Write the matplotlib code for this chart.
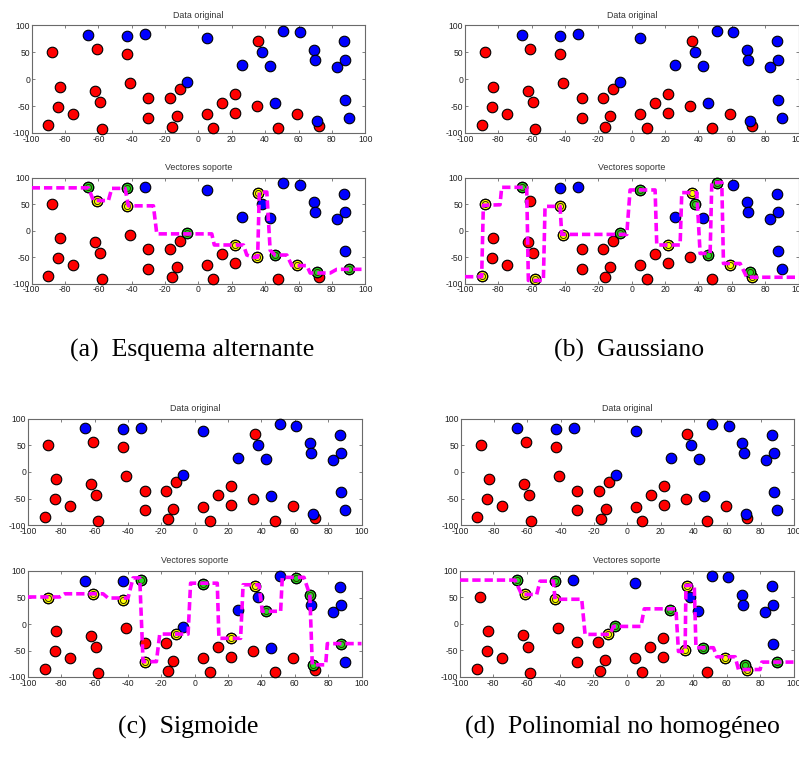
import matplotlib
matplotlib.use("Agg")
import matplotlib.pyplot as plt

plt.rcParams["axes.unicode_minus"] = False

W, H = 799, 757

# Training data: two classes
red_x = [-88, -83, -84, -90, -75, -61, -62, -59, -58, -43, -41, -30, -30, -17, -11,
         -13, -16, 5, 9, 14, 22, 22, 35, 36, 48, 59, 72]
red_y = [50, -14, -51, -85, -64, 56, -22, -43, -92, 46, -8, -35, -72, -35, -19,
         -69, -88, -65, -91, -44, -27, -62, -50, 71, -91, -64, -87]
blue_x = [-66, -43, -32, -7, 5, 26, 38, 43, 46, 51, 61, 69, 70, 83, 87, 88, 88, 90, 71]
blue_y = [82, 81, 83, -5, 76, 26, 51, 24, -45, 90, 87, 54, 35, 22, 70, 36, -38, -72, -78]

# Support vectors (red class -> yellow, blue class -> green) per kernel
sv_red_a_x = [-61, -43, 22, 36, 35, 59]
sv_red_a_y = [56, 46, -27, 71, -50, -64]
sv_blue_a_x = [-66, -43, -7, 46, 71, 90]
sv_blue_a_y = [82, 81, -5, -45, -78, -72]

sv_red_b_x = [-90, -88, -58, -43, -41, 22, 36, 59, 72]
sv_red_b_y = [-85, 50, -92, 46, -8, -27, 71, -64, -87]
sv_blue_b_x = [-66, -7, 5, 38, 46, 51, 71]
sv_blue_b_y = [82, -5, 76, 51, -45, 90, -78]

sv_red_c_x = [-88, -61, -43, -30, -11, 22, 36]
sv_red_c_y = [50, 56, 46, -72, -19, -27, 71]
sv_blue_c_x = [-32, 5, 43, 61, 69, 71, 88]
sv_blue_c_y = [83, 76, 24, 87, 54, -78, -38]

sv_red_d_x = [-61, -43, -11, 36, 35, 59, 72]
sv_red_d_y = [56, 46, -19, 71, -50, -64, -87]
sv_blue_d_x = [-66, -43, -7, 26, 46, 71, 90]
sv_blue_d_y = [82, 81, -5, 26, -45, -78, -72]

# Decision boundaries (grid contour, step-like)
bnd_a_x = [-100, -66, -63, -54, -52, -44, -42, -27, -25, 8, 9.5, 27, 29, 33, 35.5,
           36.5, 41, 43, 46, 53, 56, 65, 67, 79, 83, 100]
bnd_a_y = [81, 81, 57, 57, 80, 80, 47, 47, -6, -6, -27, -27, -46, -50, -50,
           73, 73, -37, -46, -46, -66, -66, -80, -80, -73, -73]

bnd_b_x = [-100, -90, -89, -79, -78, -63, -62, -53, -52, -43, -42, -3, -1, 14, 15,
           29, 30, 39, 41, 47, 48, 54, 55, 65, 69, 100]
bnd_b_y = [-87, -87, 48, 49, 82, 82, -94, -94, 46, 46, -7, -7, 77, 77, -27,
           -27, 72, 72, -43, -43, 91, 91, -62, -62, -88, -88]

bnd_c_x = [-100, -81, -78, -55, -52, -40, -37, -33, -31, -23, -21, -4, -2.5, 13.5,
           14.5, 27.5, 29, 38.5, 40.5, 51.5, 52.5, 65.5, 69, 70.5, 78.5, 79.5, 100]
bnd_c_y = [51, 51, 57, 57, 49, 49, 87, 87, -71, -71, -19, -19, 77, 77,
           -27, -27, 74, 74, 24, 24, 88, 88, 55, -77, -77, -37, -37]

bnd_d_x = [-100, -67, -63, -54, -52, -44, -43, -27, -25, -10, -8, 8.5, 10.5, 29.5,
           31, 35, 35.5, 40.5, 41.5, 52, 54, 65, 67, 80, 81, 100]
bnd_d_y = [82, 82, 55, 55, 80, 80, 46, 46, -20, -20, -5, -5, 28, 28,
           -52, -52, 72, 72, -45, -45, -62, -62, -86, -86, -72, -72]

captions = ["(a)  Esquema alternante", "(b)  Gaussiano",
            "(c)  Sigmoide", "(d)  Polinomial no homogéneo"]

xticks = list(range(-100, 101, 20))
yticks = [-100, -50, 0, 50, 100]

RED = "#ff0000"
BLUE = "#0000ff"
YELLOW = "#ffff00"
GREEN = "#22dd22"
MAGENTA = "#ff00ff"
FRAME = "#6a6a6a"

fig = plt.figure(figsize=(W / 100, H / 100), dpi=100)
fig.patch.set_facecolor("white")


def make_axes(left, top, right, bottom):
    return fig.add_axes([left / W, 1 - bottom / H, (right - left) / W, (bottom - top) / H])


def style(ax, title):
    ax.set_xlim(-100, 100)
    ax.set_ylim(-100, 100)
    ax.set_xticks(xticks)
    ax.set_yticks(yticks)
    ax.tick_params(direction="in", length=2.2, width=0.6, color=FRAME,
                   labelsize=6.2, labelcolor="#222222", pad=1.2,
                   top=True, right=True)
    for lab in ax.get_xticklabels() + ax.get_yticklabels():
        lab.set_fontfamily("Liberation Sans")
    for s in ax.spines.values():
        s.set_color(FRAME)
        s.set_linewidth(0.8)
    ax.set_title(title, fontsize=6.4, family="Liberation Sans", color="#333333", pad=5.5)


def scatter_data(ax):
    ax.plot(red_x, red_y, "o", ms=7.6, mfc=RED, mec="black", mew=0.8,
            linestyle="none", zorder=3, clip_on=False)
    ax.plot(blue_x, blue_y, "o", ms=7.6, mfc=BLUE, mec="black", mew=0.8,
            linestyle="none", zorder=3, clip_on=False)


def support(ax, xs, ys, color):
    ax.plot(xs, ys, "o", ms=7.4, mfc=color, mec="black", mew=0.8,
            linestyle="none", zorder=4, clip_on=False)
    ax.plot(xs, ys, "o", ms=4.4, mfc=color, mec="#333300", mew=0.7,
            linestyle="none", zorder=4, clip_on=False)


# pixel boxes (left, top, right, bottom)
panels = [
    ((31.7, 25.3, 365.2, 133.0), (31.7, 177.8, 365.2, 283.6),
     bnd_a_x, bnd_a_y, sv_red_a_x, sv_red_a_y, sv_blue_a_x, sv_blue_a_y),
    ((465.0, 25.3, 798.5, 133.0), (465.0, 177.8, 798.5, 283.6),
     bnd_b_x, bnd_b_y, sv_red_b_x, sv_red_b_y, sv_blue_b_x, sv_blue_b_y),
    ((28.0, 418.7, 361.5, 525.3), (28.0, 571.0, 361.5, 677.0),
     bnd_c_x, bnd_c_y, sv_red_c_x, sv_red_c_y, sv_blue_c_x, sv_blue_c_y),
    ((460.5, 418.7, 794.0, 525.3), (460.0, 570.5, 793.5, 677.0),
     bnd_d_x, bnd_d_y, sv_red_d_x, sv_red_d_y, sv_blue_d_x, sv_blue_d_y),
]

caption_pos = [(192, 350), (629, 350), (188, 727), (622, 727)]

for (top_box, bot_box, bx, by, rx, ry, gx, gy), cap, (cx, cy) in zip(panels, captions, caption_pos):
    ax1 = make_axes(*top_box)
    scatter_data(ax1)
    style(ax1, "Data original")

    ax2 = make_axes(*bot_box)
    scatter_data(ax2)
    support(ax2, rx, ry, YELLOW)
    support(ax2, gx, gy, GREEN)
    ax2.plot(bx, by, color=MAGENTA, lw=2.6, dashes=(2.3, 1.1), zorder=5,
             solid_capstyle="butt", dash_capstyle="butt")
    style(ax2, "Vectores soporte")

    fig.text(cx / W, 1 - cy / H, cap, ha="center", va="center",
             fontsize=18.5, family="Liberation Serif", color="black")

fig.savefig("out.png", dpi=100, facecolor="white")
